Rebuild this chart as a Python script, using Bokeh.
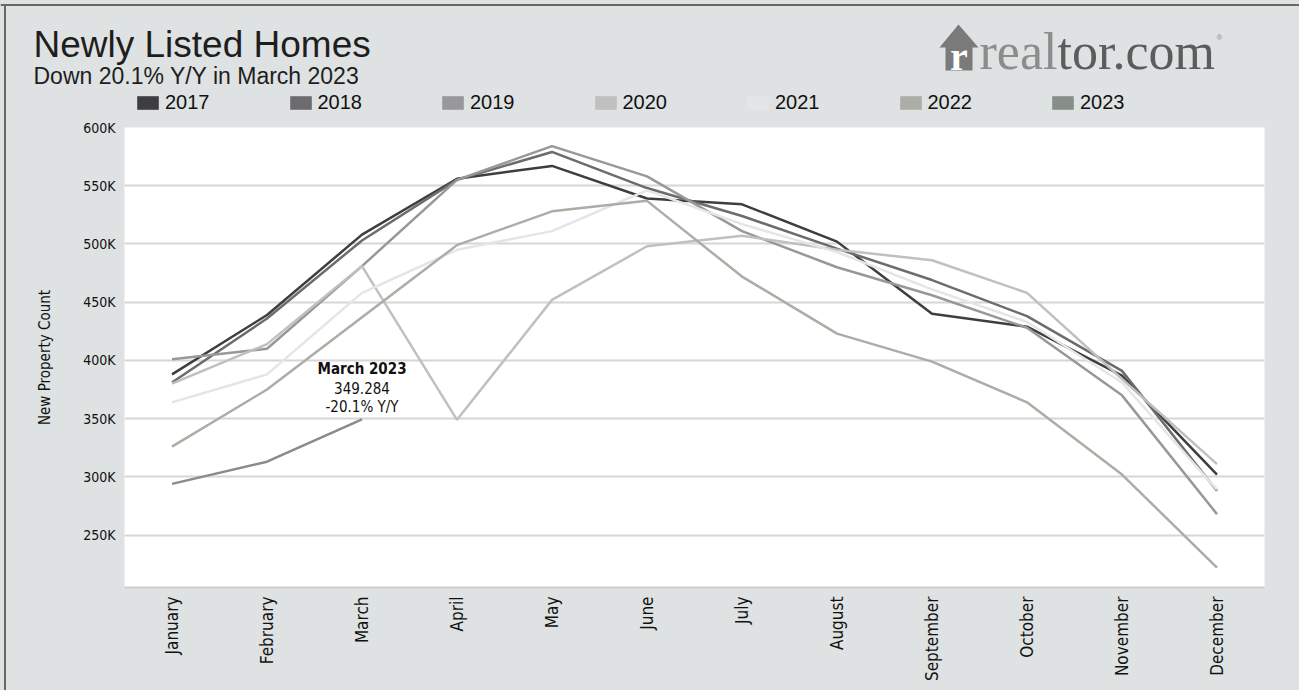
import math
from bokeh.plotting import figure
from bokeh.layouts import column
from bokeh.models import (FactorRange, Range1d, FixedTicker, Label, Legend,
                          LegendItem, PolyAnnotation, ColumnDataSource, Span,
                          InlineStyleSheet)
from bokeh.core.properties import value
from bokeh.embed import file_html
from bokeh.resources import INLINE

# ---------------- data ----------------
months = ["January", "February", "March", "April", "May", "June", "July",
          "August", "September", "October", "November", "December"]
years = ["2017", "2018", "2019", "2020", "2021", "2022", "2023"]

v2017 = [388000, 439000, 508000, 556000, 567000, 539000, 534000, 502000, 440000, 429000, 387000, 302000]
v2018 = [381000, 436000, 503000, 555000, 579000, 548000, 524000, 496000, 469000, 438000, 391000, 288000]
v2019 = [401000, 410000, 481000, 555000, 584000, 558000, 511000, 480000, 456000, 428000, 370000, 268000]
v2020 = [380000, 414000, 481000, 349000, 452000, 498000, 507000, 495000, 486000, 458000, 384000, 311000]
v2021 = [364000, 388000, 458000, 495000, 511000, 546000, 517000, 493000, 461000, 433000, 381000, 289000]
v2022 = [326000, 375000, 437000, 499000, 528000, 537000, 472000, 423000, 399000, 364000, 302000, 222000]
v2023 = [294000, 313000, 349284]

y_ticks = [250000, 300000, 350000, 400000, 450000, 500000, 550000, 600000]
y_tick_labels = ["250K", "300K", "350K", "400K", "450K", "500K", "550K", "600K"]

title_text = "Newly Listed Homes"
subtitle_text = "Down 20.1% Y/Y in March 2023"
callout_lines = ["March 2023", "349.284", "-20.1% Y/Y"]

series = [v2017, v2018, v2019, v2020, v2021, v2022, v2023]
colors = ["#3e3e40", "#6c6c6e", "#98989b", "#c0c0c0", "#e4e5e6", "#acada5", "#868e88"]

# ---------------- styling ----------------
BG = "#dee2e2"
FRAME_LINE = "#6b675c"
SANS = "Liberation Sans"
COND = "DejaVu Sans Condensed"
SERIF = "Liberation Serif"
W = 1299
HEADER_H = 119
MAIN_H = 690 - HEADER_H

# ================= header figure (title, subtitle, legend, logo) =================
h = figure(width=W, height=HEADER_H, x_range=Range1d(0, W), y_range=Range1d(HEADER_H, 0),
           output_backend="svg", toolbar_location=None, title=None,
           x_axis_location=None, y_axis_location=None, min_border=0)
h.frame_align = False
h.background_fill_color = BG
h.border_fill_color = BG
h.outline_line_color = None
h.grid.grid_line_color = None

h.add_layout(Span(location=4.5, dimension="width", line_color=FRAME_LINE, line_width=2))

h.add_layout(Label(x=33, y=44, text=title_text, text_font=SANS, text_font_size="37px",
                   text_color="#1e1e1e", text_baseline="alphabetic"))
h.add_layout(Label(x=33, y=75, text=subtitle_text, text_font=SANS, text_font_size="23px",
                   text_color="#1e1e1e", text_baseline="alphabetic"))

# realtor.com logo
house_x = [958, 978, 972, 972, 945, 945, 939]
house_y = [24, 47, 47, 70, 70, 47, 47]
h.add_layout(PolyAnnotation(xs=house_x, ys=house_y, fill_color="#7a7a7a", fill_alpha=1,
                            line_color=None))
h.add_layout(Label(x=958.5, y=56, text="r", text_font=SERIF, text_font_style="bold",
                   text_font_size="40px", text_color="white", text_align="center",
                   text_baseline="alphabetic"))
h.add_layout(Label(x=979, y=51, text="real", text_font=SERIF, text_font_size="52px",
                   text_color="#8c8c8c", text_baseline="alphabetic"))
h.add_layout(Label(x=1057, y=51, text="tor.com", text_font=SERIF, text_font_size="52px",
                   text_color="#5c5c5c", text_baseline="alphabetic"))
h.add_layout(Label(x=1216, y=37, text="®", text_font=SANS, text_font_size="8px",
                   text_color="#8c8c8c", text_baseline="alphabetic"))

# legend swatches (single off-screen proxy quads used only for legend drawing)
items = []
for yr, col in zip(years, colors):
    sq = h.quad(left=[-50], right=[-40], top=[-50], bottom=[-40], fill_color=col,
                line_color=None)
    items.append(LegendItem(label=yr, renderers=[sq]))
legend = Legend(items=items, orientation="horizontal", location=(134, 5),
                glyph_width=27, glyph_height=17, label_standoff=4, spacing=77,
                padding=0, margin=0, background_fill_alpha=0, border_line_color=None,
                label_text_font=SANS, label_text_font_size="20px",
                label_text_color="#111111", label_height=17)
h.add_layout(legend)

# ================= main chart =================
p = figure(width=W, height=MAIN_H, x_range=FactorRange(*months),
           y_range=Range1d(205000, 600000), output_backend="svg",
           toolbar_location=None, title=None,
           min_border_left=124, min_border_right=35, min_border_top=127 - HEADER_H,
           min_border_bottom=690 - 587)
p.frame_align = False
p.background_fill_color = "white"
p.border_fill_color = BG
p.outline_line_color = None

p.xgrid.grid_line_color = None
p.ygrid.grid_line_color = "#d6d6d6"
p.ygrid.grid_line_width = 2

p.yaxis.ticker = FixedTicker(ticks=y_ticks)
p.yaxis.major_label_overrides = {t: l for t, l in zip(y_ticks, y_tick_labels)}
p.yaxis.axis_line_color = None
p.yaxis.major_tick_line_color = None
p.yaxis.minor_tick_line_color = None
p.yaxis.major_tick_out = 0
p.yaxis.major_label_standoff = 9
p.yaxis.major_label_text_font = COND
p.yaxis.major_label_text_font_size = "14px"
p.yaxis.major_label_text_color = "#111111"
p.yaxis.axis_label = "New Property Count"
p.yaxis.axis_label_text_font = COND
p.yaxis.axis_label_text_font_size = "15px"
p.yaxis.axis_label_text_font_style = "normal"
p.yaxis.axis_label_text_color = "#111111"
p.yaxis.axis_label_standoff = 26

p.xaxis.axis_line_color = "#cfcfcf"
p.xaxis.axis_line_width = 2
p.xaxis.major_tick_line_color = None
p.xaxis.minor_tick_line_color = None
p.xaxis.major_tick_out = 0
p.xaxis.major_label_orientation = math.pi / 2
p.xaxis.major_label_standoff = 9
p.xaxis.major_label_text_font = COND
p.xaxis.major_label_text_font_size = "17px"
p.xaxis.major_label_text_color = "#111111"

for yr, vals, col in zip(years, series, colors):
    src = ColumnDataSource(dict(x=months[:len(vals)], y=vals))
    p.line("x", "y", source=src, line_color=col, line_width=2.5)

last = v2023[-1]
p.text(x=[months[2]], y=[last], text=[callout_lines[0]], y_offset=-50,
       text_align="center", text_baseline="middle", text_font=value(COND),
       text_font_style="bold", text_font_size="15px", text_color="#111111")
p.text(x=[months[2], months[2]], y=[last, last], text=callout_lines[1:],
       y_offset=[-31, -12], text_align="center", text_baseline="middle",
       text_font=value(COND), text_font_size="15px", text_color="#111111")

frame_css = InlineStyleSheet(css=f"""
:host {{ position: relative; background-color: {BG}; }}
:host::after {{ content: ""; position: absolute; left: 4px; top: 4px; bottom: 0px;
  width: 2px; background-color: {FRAME_LINE}; z-index: 10; pointer-events: none; }}
""")
layout = column(h, p, spacing=0, styles={"background-color": BG},
                stylesheets=[frame_css])
open("out.html", "w").write(file_html(layout, INLINE))
